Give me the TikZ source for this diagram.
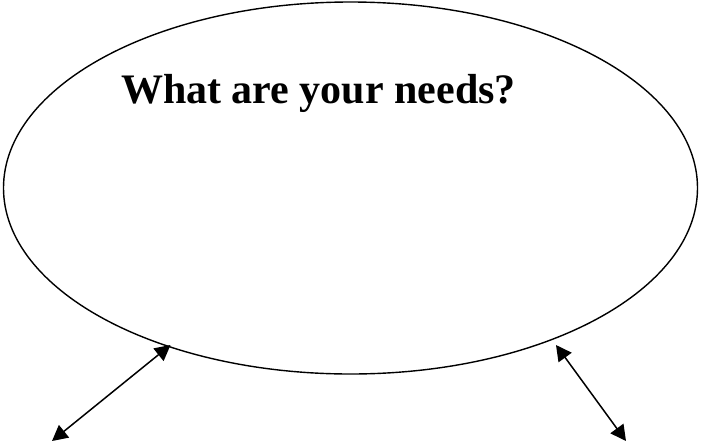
\documentclass[tikz,border=0pt]{standalone}
\usepackage{fontspec}
\setmainfont{Liberation Serif}
\usetikzlibrary{arrows.meta,shapes.geometric}
\begin{document}
\begin{tikzpicture}[x=1pt,y=-1pt,
  bubble/.style={draw,ellipse,line width=1.4pt,inner sep=0pt,minimum width=694pt,minimum height=372pt},
  link/.style={line width=1.5pt,{Triangle[length=15.5pt,width=16pt]}-{Triangle[length=15.5pt,width=16pt]}},
  title/.style={font=\fontsize{42}{48}\selectfont\bfseries,anchor=base,inner sep=0pt}]
\useasboundingbox (0,0) rectangle (702,445);
\node[bubble] (needs) at (350.5,188) {};
\node[title] (q) at (318.5,103) {What are your needs?};
\coordinate (l1) at (170.5,345);
\coordinate (l2) at (52,441);
\coordinate (r1) at (556,345);
\coordinate (r2) at (626,441);
\draw[link] (l2) -- (l1);
\draw[link] (r1) -- (r2);
\end{tikzpicture}
\end{document}
